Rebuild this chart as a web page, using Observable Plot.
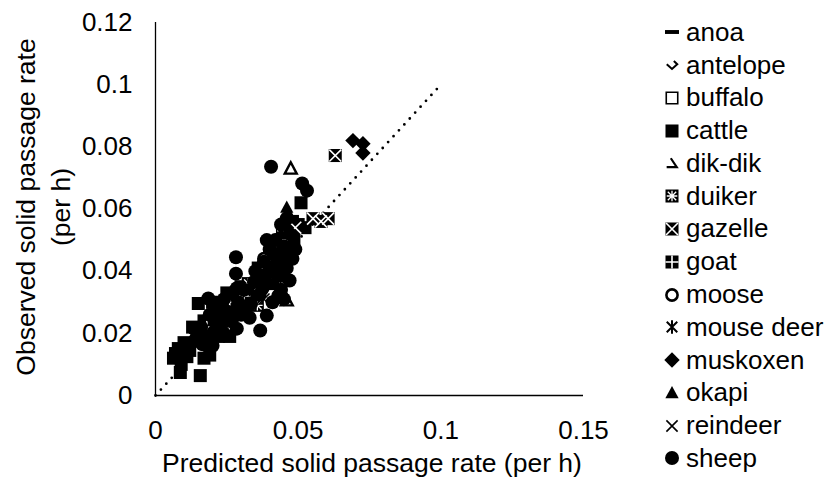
<!DOCTYPE html>
<html>
<head>
<meta charset="utf-8">
<script src="https://cdn.jsdelivr.net/npm/d3@7"></script>
<script src="https://cdn.jsdelivr.net/npm/@observablehq/plot@0.6"></script>
<style>
  html, body { margin: 0; padding: 0; background: #fff; }
  #wrap { position: relative; width: 830px; height: 484px; font-family: "Liberation Sans", Arial, sans-serif; color: #000; overflow: hidden; }
  #chart { position: absolute; left: 0; top: 0; }
  #ytitle { position: absolute; left: 44px; top: 207px; transform: translate(-50%, -50%) rotate(-90deg); white-space: nowrap; text-align: center; font-size: 26.5px; line-height: 35px; }
  #xtitle { position: absolute; left: 372px; top: 448px; transform: translateX(-50%); white-space: nowrap; font-size: 26.5px; line-height: 30px; }
  #legend { position: absolute; left: 662px; top: 16px; font-size: 26px; }
  .row { display: flex; align-items: center; height: 32.77px; white-space: nowrap; }
  .row svg { flex: 0 0 auto; margin-right: 4px; }
</style>
</head>
<body>
<div id="wrap">
  <div id="chart"></div>
  <div id="ytitle">Observed solid passage rate<br>(per h)</div>
  <div id="xtitle">Predicted solid passage rate (per h)</div>
  <div id="legend"></div>
</div>
<script>
// ---- data (predicted, observed) per species ----
const species = ["anoa","antelope","buffalo","cattle","dik-dik","duiker","gazelle","goat","moose","mouse deer","muskoxen","okapi","reindeer","sheep"];

const anoa = [[0.0335,0.0345],[0.0305,0.0295],[0.0270,0.0260]];
const antelope = [[0.0300,0.0280],[0.0345,0.0315],[0.0400,0.0370]];
const buffalo = [[0.0370,0.0350],[0.0415,0.0385],[0.0440,0.0450]];
const cattle = [[0.0087,0.0074],[0.0157,0.0064],[0.0080,0.0151],[0.0070,0.0135],[0.0063,0.0120],[0.0090,0.0100],[0.0110,0.0125],[0.0100,0.0170],[0.0120,0.0145],[0.0130,0.0220],[0.0150,0.0296],[0.0170,0.0240],[0.0200,0.0300],[0.0220,0.0190],[0.0250,0.0330],[0.0270,0.0280],[0.0300,0.0350],[0.0330,0.0320],[0.0360,0.0410],[0.0400,0.0440],[0.0410,0.0360],[0.0430,0.0480],[0.0450,0.0440],[0.0460,0.0530],[0.0480,0.0560],[0.0500,0.0550],[0.0510,0.0620],[0.0524,0.0540],[0.0470,0.0500],[0.0260,0.0190],[0.0190,0.0130],[0.0170,0.0120],[0.0155,0.0175],[0.0235,0.0285],[0.0315,0.0300],[0.0355,0.0335],[0.0485,0.0500]];
const dikdik = [[0.0474,0.0729],[0.0460,0.0305]];
const duiker = [[0.0325,0.0360],[0.0357,0.0290],[0.0445,0.0530],[0.0400,0.0450]];
const gazelle = [[0.0630,0.0772],[0.0552,0.0569],[0.0605,0.0569],[0.0490,0.0540],[0.0580,0.0560]];
const goat = [[0.0180,0.0220],[0.0210,0.0270],[0.0240,0.0250],[0.0260,0.0300],[0.0310,0.0320],[0.0350,0.0360],[0.0390,0.0410],[0.0420,0.0460],[0.0440,0.0500]];
const moose = [[0.0400,0.0390],[0.0430,0.0420],[0.0380,0.0440]];
const mouseDeer = [[0.0280,0.0300],[0.0330,0.0340],[0.0380,0.0390],[0.0230,0.0240]];
const muskoxen = [[0.0692,0.0820],[0.0727,0.0810],[0.0727,0.0780]];
const okapi = [[0.0460,0.0605],[0.0455,0.0570],[0.0440,0.0520],[0.0470,0.0580]];
const reindeer = [[0.0420,0.0380],[0.0380,0.0310],[0.0450,0.0430],[0.0300,0.0310]];
const sheep = [[0.0405,0.0736],[0.0514,0.0682],[0.0531,0.0659],[0.0282,0.0445],[0.0282,0.0392],[0.0367,0.0209],[0.0185,0.0312],[0.0390,0.0257],[0.0147,0.0200],[0.0120,0.0160],[0.0140,0.0180],[0.0160,0.0220],[0.0180,0.0190],[0.0190,0.0260],[0.0210,0.0240],[0.0220,0.0280],[0.0230,0.0210],[0.0240,0.0310],[0.0250,0.0270],[0.0260,0.0240],[0.0270,0.0330],[0.0290,0.0300],[0.0300,0.0260],[0.0310,0.0340],[0.0315,0.0285],[0.0350,0.0400],[0.0370,0.0380],[0.0380,0.0430],[0.0390,0.0360],[0.0400,0.0470],[0.0410,0.0400],[0.0420,0.0500],[0.0430,0.0440],[0.0440,0.0340],[0.0450,0.0480],[0.0460,0.0410],[0.0470,0.0520],[0.0430,0.0320],[0.0440,0.0550],[0.0460,0.0570],[0.0480,0.0440],[0.0490,0.0470],[0.0470,0.0370],[0.0450,0.0310],[0.0410,0.0300],[0.0200,0.0160],[0.0240,0.0200],[0.0330,0.0250],[0.0285,0.0215],[0.0390,0.0500],[0.0225,0.0235],[0.0275,0.0255],[0.0335,0.0295],[0.0345,0.0365],[0.0365,0.0325],[0.0395,0.0395],[0.0425,0.0415],[0.0415,0.0455],[0.0455,0.0455],[0.0445,0.0385],[0.0375,0.0345],[0.0285,0.0345],[0.0165,0.0165],[0.0135,0.0215],[0.0205,0.0205]];

const diagonal = [0, 0.1];
const xTicks = [0, 0.05, 0.1, 0.15];
const xTickLabels = ["0", "0.05", "0.1", "0.15"];
const yTicks = [0, 0.02, 0.04, 0.06, 0.08, 0.1, 0.12];
const yTickLabels = ["0", "0.02", "0.04", "0.06", "0.08", "0.1", "0.12"];

// ---- custom marker shapes ----
const mk = f => ({ draw(c, size) { const r = Math.sqrt(size / Math.PI); f(c, r); } });
const SQ = mk((c, r) => { const s = r * 0.93; c.moveTo(-s, -s); c.lineTo(s, -s); c.lineTo(s, s); c.lineTo(-s, s); c.closePath(); });
const SQO = mk((c, r) => { const s = r * 0.82; c.moveTo(-s, -s); c.lineTo(s, -s); c.lineTo(s, s); c.lineTo(-s, s); c.closePath(); });
const CIRC = mk((c, r) => { c.moveTo(r, 0); c.arc(0, 0, r, 0, 2 * Math.PI); });
const CIRCO = mk((c, r) => { const q = r * 0.8; c.moveTo(q, 0); c.arc(0, 0, q, 0, 2 * Math.PI); });
const DIAM = mk((c, r) => { const s = r * 1.1; c.moveTo(0, -s); c.lineTo(s, 0); c.lineTo(0, s); c.lineTo(-s, 0); c.closePath(); });
const TRI = mk((c, r) => { c.moveTo(0, -r); c.lineTo(0.95 * r, 0.75 * r); c.lineTo(-0.95 * r, 0.75 * r); c.closePath(); });
const TRIO = mk((c, r) => { const q = r * 0.9; c.moveTo(0, -q * 1.05); c.lineTo(0.95 * q, 0.75 * q); c.lineTo(-0.95 * q, 0.75 * q); c.closePath(); });
const DIKLEG = mk((c, r) => { const q = r * 0.85; c.moveTo(-0.2 * q, -0.8 * q); c.lineTo(0.8 * q, 0.7 * q); c.lineTo(-0.9 * q, 0.7 * q); });
const DASH = mk((c, r) => { c.moveTo(-r, -0.28 * r); c.lineTo(r, -0.28 * r); c.lineTo(r, 0.28 * r); c.lineTo(-r, 0.28 * r); c.closePath(); });
const XS = mk((c, r) => { const s = r * 0.8; c.moveTo(-s, -s); c.lineTo(s, s); c.moveTo(s, -s); c.lineTo(-s, s); });
const XIN = mk((c, r) => { const s = r * 0.85; c.moveTo(-s, -s); c.lineTo(s, s); c.moveTo(s, -s); c.lineTo(-s, s); });
const PLUSIN = mk((c, r) => { const s = r * 0.93; c.moveTo(0, -s); c.lineTo(0, s); c.moveTo(-s, 0); c.lineTo(s, 0); });
const STARIN = mk((c, r) => { const s = r * 0.6, t = r * 0.75; c.moveTo(-s, -s); c.lineTo(s, s); c.moveTo(s, -s); c.lineTo(-s, s); c.moveTo(0, -t); c.lineTo(0, t); c.moveTo(-t, 0); c.lineTo(t, 0); });
const AST = mk((c, r) => { const s = r * 0.75, t = r * 0.95; c.moveTo(-s, -s); c.lineTo(s, s); c.moveTo(s, -s); c.lineTo(-s, s); c.moveTo(0, -t); c.lineTo(0, t); });
const CHEV = mk((c, r) => { const q = r * 0.75; c.moveTo(-q, -0.15 * q); c.lineTo(0, 0.75 * q); c.lineTo(q, -0.15 * q); c.lineTo(0.35 * q, -0.75 * q); });

// layers drawn for each species (in order)
const styles = {
  "anoa": [{ sym: DASH, fill: "#000" }],
  "antelope": [{ sym: CHEV, stroke: "#000", sw: 2 }],
  "buffalo": [{ sym: SQO, fill: "#fff", stroke: "#000", sw: 1.6 }],
  "cattle": [{ sym: SQ, fill: "#000" }],
  "dik-dik": [{ sym: TRIO, fill: "#fff", stroke: "#000", sw: 2.4 }],
  "duiker": [{ sym: SQ, fill: "#000" }, { sym: STARIN, stroke: "#fff", sw: 1.3 }],
  "gazelle": [{ sym: SQ, fill: "#000" }, { sym: XIN, stroke: "#fff", sw: 1.6 }],
  "goat": [{ sym: SQ, fill: "#000" }, { sym: PLUSIN, stroke: "#fff", sw: 1.6 }],
  "moose": [{ sym: CIRCO, fill: "#fff", stroke: "#000", sw: 2.6 }],
  "mouse deer": [{ sym: AST, stroke: "#000", sw: 2 }],
  "muskoxen": [{ sym: DIAM, fill: "#000" }],
  "okapi": [{ sym: TRI, fill: "#000" }],
  "reindeer": [{ sym: XS, stroke: "#000", sw: 1.6 }],
  "sheep": [{ sym: CIRC, fill: "#000" }]
};
const legendOverride = { "dik-dik": [{ sym: DIKLEG, stroke: "#000", sw: 2.2 }] };
const seriesData = { "anoa": anoa, "antelope": antelope, "buffalo": buffalo, "cattle": cattle, "dik-dik": dikdik, "duiker": duiker, "gazelle": gazelle, "goat": goat, "moose": moose, "mouse deer": mouseDeer, "muskoxen": muskoxen, "okapi": okapi, "reindeer": reindeer, "sheep": sheep };

const R = 7;
const font = "Liberation Sans, Arial, sans-serif";

const pointMarks = [];
for (const name of species) {
  for (const L of styles[name]) {
    pointMarks.push(Plot.dot(seriesData[name], {
      x: d => d[0], y: d => d[1], r: R, symbol: L.sym,
      fill: L.fill || "none", stroke: L.stroke || "none", strokeWidth: L.sw || 0
    }));
  }
}

const chart = Plot.plot({
  width: 620, height: 484,
  marginLeft: 155, marginRight: 37, marginTop: 22, marginBottom: 89,
  style: { fontFamily: font, fontSize: "26px", color: "#000", background: "#fff" },
  x: { domain: [0, 0.15] },
  y: { domain: [0, 0.12] },
  marks: [
    Plot.axisX({ ticks: xTicks, tickSize: 0, tickPadding: 25, label: null, fontSize: 26, tickFormat: d => xTickLabels[xTicks.indexOf(d)] }),
    Plot.axisY({ ticks: yTicks, tickSize: 0, tickPadding: 23, label: null, fontSize: 26, tickFormat: d => yTickLabels[yTicks.indexOf(d)] }),
    Plot.line(diagonal, { x: d => d, y: d => d, stroke: "#000", strokeWidth: 2.8, strokeDasharray: "0 8", strokeLinecap: "round" }),
    ...pointMarks,
    Plot.ruleX([0], { stroke: "#000", strokeWidth: 1.3 }),
    Plot.ruleY([0], { stroke: "#000", strokeWidth: 1.3 })
  ]
});
document.getElementById("chart").appendChild(chart);

// ---- legend ----
const legend = d3.select("#legend");
for (const name of species) {
  const row = legend.append("div").attr("class", "row");
  const svg = row.append("svg").attr("width", 20).attr("height", 20);
  const g = svg.append("g").attr("transform", "translate(10,10)");
  for (const L of (legendOverride[name] || styles[name])) {
    g.append("path")
      .attr("d", d3.symbol(L.sym, Math.PI * R * R)())
      .attr("fill", L.fill || "none")
      .attr("stroke", L.stroke || "none")
      .attr("stroke-width", L.sw || 0);
  }
  row.append("span").text(name);
}
</script>
</body>
</html>
